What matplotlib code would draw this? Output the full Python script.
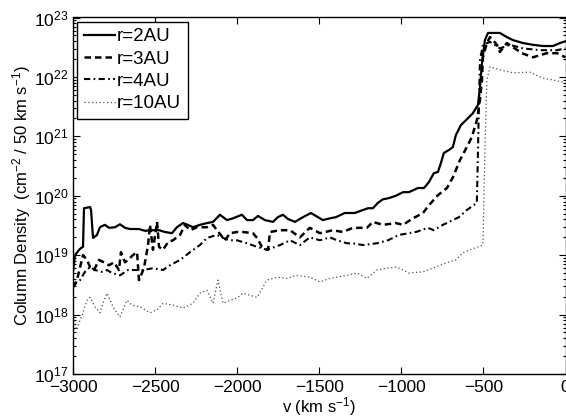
import numpy as np
import matplotlib
matplotlib.use("Agg")
import matplotlib.pyplot as plt
from matplotlib.ticker import LogLocator, FixedLocator

plt.rcParams['font.family'] = ['Liberation Sans', 'DejaVu Sans']
plt.rcParams['mathtext.default'] = 'regular'

# velocity (km/s) and log10 column density for each radius
v_2au = [-3000, -2988, -2963, -2951, -2939, -2933, -2896, -2890, -2878, -2854, -2836, -2823,
         -2805, -2781, -2744, -2714, -2683, -2653, -2598, -2562, -2519, -2476, -2440, -2397,
         -2367, -2330, -2300, -2269, -2227, -2184, -2147, -2105, -2062, -2026, -1971, -1940,
         -1904, -1873, -1831, -1782, -1752, -1721, -1691, -1648, -1612, -1551, -1508, -1478,
         -1435, -1398, -1344, -1283, -1234, -1203, -1173, -1143, -1112, -1076, -1033, -990,
         -954, -899, -862, -832, -802, -777, -759, -741, -710, -686, -668, -637, -607, -564,
         -533, -521, -509, -491, -472, -442, -400, -357, -320, -259, -198, -138, -77, -34, 0]
lg_2au = [18.72, 19.00, 19.09, 19.12, 19.14, 19.79, 19.81, 19.76, 19.29, 19.34, 19.47, 19.49,
          19.51, 19.46, 19.47, 19.52, 19.46, 19.44, 19.44, 19.41, 19.42, 19.42, 19.39, 19.37,
          19.47, 19.54, 19.51, 19.47, 19.51, 19.54, 19.56, 19.68, 19.59, 19.62, 19.68, 19.59,
          19.59, 19.66, 19.59, 19.56, 19.64, 19.68, 19.61, 19.56, 19.62, 19.71, 19.64, 19.59,
          19.62, 19.64, 19.71, 19.71, 19.76, 19.79, 19.79, 19.88, 19.94, 19.96, 20.00, 20.06,
          20.06, 20.13, 20.13, 20.23, 20.38, 20.40, 20.55, 20.72, 20.77, 20.82, 21.02, 21.19,
          21.27, 21.39, 21.53, 21.83, 22.23, 22.62, 22.74, 22.74, 22.74, 22.67, 22.62, 22.57,
          22.54, 22.52, 22.52, 22.57, 22.60]

v_3au = [-3000, -2976, -2939, -2915, -2896, -2872, -2842, -2805, -2781, -2750, -2720, -2708,
         -2683, -2665, -2635, -2610, -2598, -2568, -2543, -2531, -2513, -2488, -2476, -2452,
         -2421, -2391, -2348, -2318, -2287, -2245, -2184, -2147, -2123, -2074, -2044, -2001,
         -1965, -1904, -1879, -1849, -1812, -1800, -1739, -1678, -1618, -1557, -1496, -1417,
         -1356, -1295, -1210, -1173, -1112, -1033, -990, -929, -868, -832, -777, -722, -686,
         -643, -601, -570, -540, -521, -509, -503, -479, -460, -442, -418, -400, -357, -320,
         -266, -198, -113, -52, 0]
lg_3au = [18.46, 18.58, 19.00, 18.92, 18.80, 18.75, 18.92, 18.87, 18.83, 18.88, 18.75, 19.05,
          18.88, 18.92, 19.00, 19.05, 18.58, 18.78, 19.17, 19.51, 19.09, 19.56, 19.14, 19.09,
          19.22, 19.25, 19.34, 19.51, 19.42, 19.47, 19.47, 19.51, 19.42, 19.25, 19.37, 19.39,
          19.39, 19.37, 19.29, 19.14, 19.09, 19.39, 19.42, 19.42, 19.30, 19.46, 19.37, 19.42,
          19.39, 19.46, 19.46, 19.56, 19.51, 19.54, 19.51, 19.62, 19.71, 19.84, 20.01, 20.13,
          20.31, 20.60, 20.82, 20.99, 21.27, 21.61, 21.95, 22.33, 22.57, 22.67, 22.62, 22.54,
          22.42, 22.57, 22.50, 22.40, 22.33, 22.40, 22.40, 22.33]

v_4au = [-3000, -2976, -2957, -2927, -2896, -2866, -2823, -2793, -2762, -2714, -2665, -2610,
         -2574, -2513, -2452, -2409, -2348, -2287, -2227, -2184, -2123, -2086, -2044, -2001,
         -1940, -1879, -1819, -1739, -1678, -1618, -1557, -1496, -1435, -1392, -1331, -1295,
         -1234, -1149, -1082, -1015, -954, -911, -838, -802, -747, -686, -649, -601, -540,
         -533, -527, -521, -503, -460, -400, -339, -259, -156, -52, 0]
lg_4au = [18.46, 18.55, 18.58, 18.72, 18.80, 18.75, 18.72, 18.75, 18.70, 18.66, 18.75, 18.75,
          18.75, 18.78, 18.75, 18.83, 18.92, 19.05, 19.17, 19.29, 19.34, 19.29, 19.25, 19.25,
          19.20, 19.14, 19.09, 19.17, 19.25, 19.17, 19.30, 19.25, 19.30, 19.25, 19.20, 19.20,
          19.17, 19.20, 19.25, 19.34, 19.37, 19.39, 19.46, 19.42, 19.51, 19.59, 19.64, 19.76,
          19.88, 20.77, 21.61, 22.28, 22.54, 22.59, 22.48, 22.54, 22.48, 22.45, 22.45, 22.48]

v_10au = [-3000, -2988, -2976, -2957, -2939, -2915, -2896, -2866, -2836, -2811, -2793, -2756,
          -2714, -2671, -2641, -2592, -2531, -2488, -2452, -2391, -2330, -2269, -2227, -2184,
          -2147, -2117, -2086, -2044, -2001, -1965, -1879, -1819, -1758, -1697, -1636, -1557,
          -1496, -1435, -1331, -1270, -1210, -1149, -1088, -1027, -954, -868, -789, -728, -668,
          -625, -582, -533, -503, -491, -479, -460, -400, -320, -217, -138, -77, 0]
lg_10au = [18.03, 17.83, 17.74, 17.91, 18.03, 18.24, 18.29, 18.13, 18.03, 18.24, 18.36, 18.13,
           17.96, 18.24, 18.16, 18.13, 18.03, 18.08, 18.19, 18.16, 18.11, 18.19, 18.36, 18.41,
           18.19, 18.58, 18.19, 18.24, 18.28, 18.36, 18.29, 18.58, 18.63, 18.61, 18.66, 18.63,
           18.55, 18.61, 18.66, 18.70, 18.61, 18.75, 18.78, 18.80, 18.70, 18.72, 18.80, 18.87,
           18.92, 19.04, 19.09, 19.14, 19.17, 20.77, 21.95, 22.17, 22.12, 22.07, 22.08, 21.98,
           21.95, 21.90]

labels = ['r=2AU', 'r=3AU', 'r=4AU', 'r=10AU']
x_ticks = [-3000, -2500, -2000, -1500, -1000, -500, 0]

fig = plt.figure(figsize=(5.66, 4.19), dpi=100)
ax = fig.add_axes([73 / 566, 45 / 419, 492.5 / 566, 356.5 / 419])

ax.plot(v_2au, np.power(10.0, lg_2au), color='black', lw=1.6, ls='-', label=labels[0])
ax.plot(v_3au, np.power(10.0, lg_3au), color='black', lw=1.8, ls=(0, (2.6, 1.6)), label=labels[1])
ax.plot(v_4au, np.power(10.0, lg_4au), color='black', lw=1.5, ls=(0, (3.0, 1.6, 0.8, 1.6)), label=labels[2])
ax.plot(v_10au, np.power(10.0, lg_10au), color='0.3', lw=0.9, ls=(0, (1, 2)), label=labels[3])

ax.set_yscale('log')
ax.set_xlim(-3000, 0)
ax.set_ylim(1e17, 1e23)
ax.xaxis.set_major_locator(FixedLocator(x_ticks))
ax.yaxis.set_major_locator(LogLocator(base=10, numticks=10))
ax.yaxis.set_minor_locator(LogLocator(base=10, subs=np.arange(2, 10), numticks=20))

ax.tick_params(which='both', direction='in', top=True, right=True, labelsize=12.5, width=0.8)
ax.tick_params(which='major', length=5)
ax.tick_params(which='minor', length=2.5)
ax.tick_params(axis='x', pad=4.5)
ax.tick_params(axis='y', pad=3)
for s in ax.spines.values():
    s.set_linewidth(1.0)

ax.set_xlabel('v (km s$^{-1}$)', fontsize=12, labelpad=0)
ax.set_ylabel('Column Density  (cm$^{-2}$ / 50 km s$^{-1}$)', fontsize=12, labelpad=1)

leg = ax.legend(loc='upper left', fontsize=13.5, frameon=True, fancybox=False,
                edgecolor='black', framealpha=1, borderaxespad=0.22, handlelength=1.65,
                handletextpad=0.12, labelspacing=0.28, borderpad=0.35)
leg.get_frame().set_linewidth(1.0)

fig.savefig('out.png', dpi=100)
